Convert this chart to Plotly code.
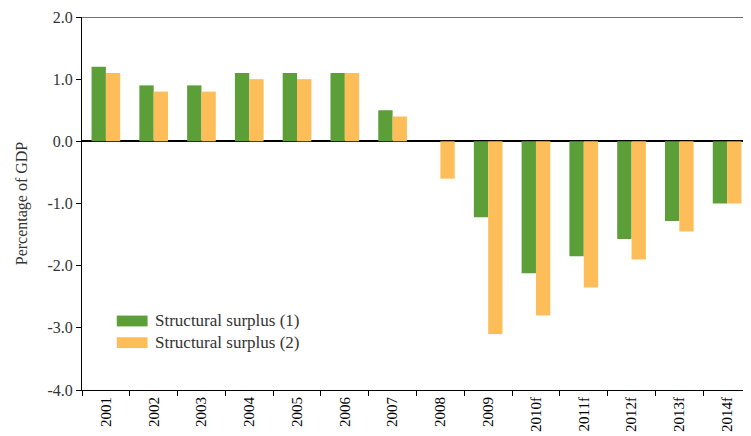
import plotly.graph_objects as go

years = ["2001", "2002", "2003", "2004", "2005", "2006", "2007", "2008",
         "2009", "2010f", "2011f", "2012f", "2013f", "2014f"]
surplus1 = [1.2, 0.9, 0.9, 1.1, 1.1, 1.1, 0.5, 0.0, -1.22, -2.12, -1.85, -1.57, -1.28, -1.0]
surplus2 = [1.1, 0.8, 0.8, 1.0, 1.0, 1.1, 0.4, -0.6, -3.1, -2.8, -2.35, -1.9, -1.45, -1.0]
series_names = ["Structural surplus (1)", "Structural surplus (2)"]
y_tickvals = [-4, -3, -2, -1, 0, 1, 2]
y_ticktext = ["-4.0", "-3.0", "-2.0", "-1.0", "0.0", "1.0", "2.0"]
colors = ["#5C9E38", "#FDBE5A"]

FONT = "Liberation Serif"
TXT = "#333333"

fig = go.Figure()
fig.add_trace(go.Bar(x=years, y=surplus1, name=series_names[0],
                     marker=dict(color=colors[0], line=dict(width=0))))
fig.add_trace(go.Bar(x=years, y=surplus2, name=series_names[1],
                     marker=dict(color=colors[1], line=dict(width=0))))

# the page body adds an 8px margin, so the figure is sized to fill the rest
fig.update_layout(
    width=743, height=428,
    margin=dict(l=74, r=0, t=9, b=46),
    paper_bgcolor="white", plot_bgcolor="white",
    barmode="group", bargap=0.4, bargroupgap=0,
    showlegend=False,
    font=dict(family=FONT, size=14, color=TXT),
)
fig.update_yaxes(
    range=[-4, 2], tickvals=y_tickvals, ticktext=y_ticktext, automargin=False,
    showgrid=False, zeroline=True, zerolinecolor="black", zerolinewidth=1.5,
    showline=True, linecolor="black", linewidth=1,
    ticks="outside", ticklen=5, tickcolor="black",
    tickfont=dict(family=FONT, size=16, color=TXT),
    title=dict(text="Percentage of GDP", font=dict(family=FONT, size=16, color=TXT), standoff=15),
)
fig.update_xaxes(
    type="category", showgrid=False, automargin=False,
    showline=True, linecolor="black", linewidth=1,
    ticks="outside", ticklen=5, tickcolor="black", tickson="boundaries",
    tickangle=-90, tickfont=dict(family=FONT, size=15, color="black"),
)

# top frame line at 2.0
fig.add_shape(type="line", xref="paper", yref="y", x0=0, x1=1, y0=2, y1=2,
              line=dict(color="#444444", width=1.5))

# custom legend with wide swatches
leg_y = [0.185, 0.127]
for i in range(2):
    fig.add_shape(type="rect", xref="paper", yref="paper",
                  x0=0.052, x1=0.098, y0=leg_y[i] - 0.0145, y1=leg_y[i] + 0.0145,
                  fillcolor=colors[i], line=dict(width=0))
    fig.add_annotation(xref="paper", yref="paper", x=0.106, y=leg_y[i],
                       text=series_names[i], showarrow=False,
                       xanchor="left", yanchor="middle",
                       font=dict(family=FONT, size=17, color=TXT))

fig.write_html("out.html")
